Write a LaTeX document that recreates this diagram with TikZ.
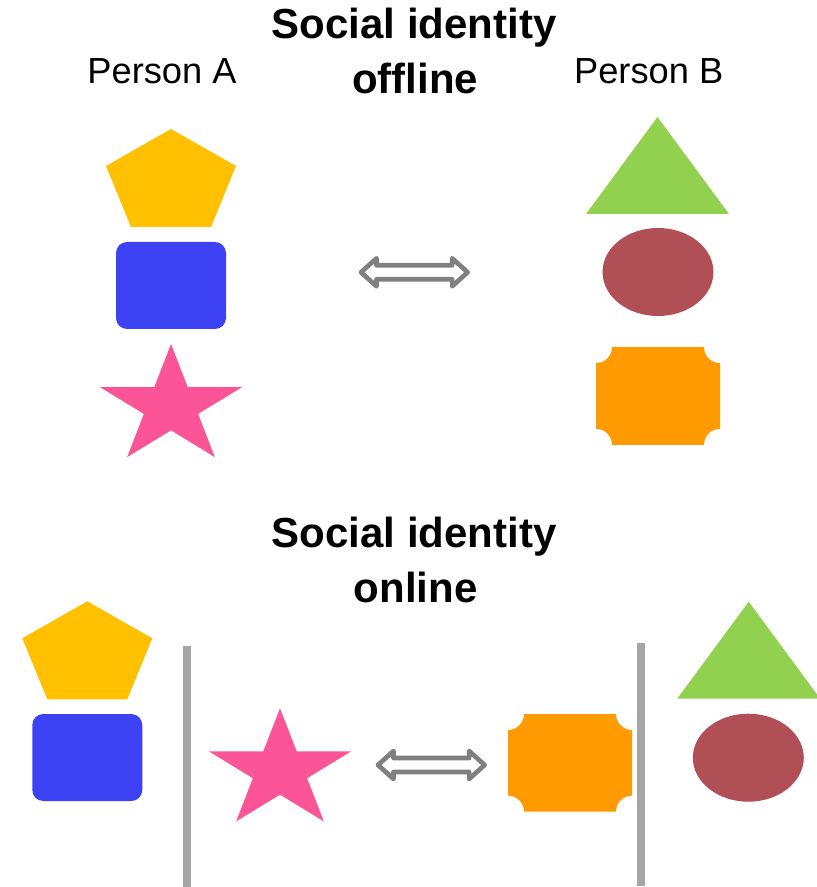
\documentclass[tikz,border=0pt]{standalone}
\usepackage{fontspec}
\setmainfont{Liberation Sans}
\definecolor{penta}{HTML}{FFC000}
\definecolor{boxblue}{HTML}{3D43F5}
\definecolor{starpink}{HTML}{FB5497}
\definecolor{trigreen}{HTML}{92D050}
\definecolor{ovalred}{HTML}{B14F56}
\definecolor{notchorange}{HTML}{FF9A00}
\definecolor{divider}{HTML}{A6A6A6}
\definecolor{arrowgray}{HTML}{808080}

\tikzset{
  heading/.style={font=\fontsize{31.5}{38}\selectfont\bfseries, anchor=base, inner sep=0pt},
  person/.style={font=\fontsize{27.2}{33}\selectfont, anchor=base, inner sep=0pt},
  wall/.style={draw=divider, line width=5.6pt},
  % yellow pentagon, origin at the apex
  pentagonshape/.pic={\fill[penta] (0,0) -- (65,37) -- (40,98) -- (-40,98) -- (-65,37) -- cycle;},
  % blue rounded box, origin at the middle of its top edge
  boxshape/.pic={\fill[boxblue, rounded corners=8.25pt] (-55,0) rectangle (55,87);},
  % pink five-pointed star, origin at its centre
  starshape/.pic={\fill[starpink]
      (90:55.95pt and 46.9pt) -- (54:21.4pt and 17.9pt) --
      (18:55.95pt and 46.9pt) -- (-18:21.4pt and 17.9pt) --
      (-54:55.95pt and 46.9pt) -- (-90:21.4pt and 17.9pt) --
      (-126:55.95pt and 46.9pt) -- (-162:21.4pt and 17.9pt) --
      (-198:55.95pt and 46.9pt) -- (-234:21.4pt and 17.9pt) -- cycle;},
  % green triangle, origin at the apex
  triangleshape/.pic={\fill[trigreen] (0,0) -- (71.5,97) -- (-71.5,97) -- cycle;},
  % red oval, origin at its centre
  ovalshape/.pic={\fill[ovalred] (0,0) ellipse [x radius=41.6pt, y radius=33pt];},
  % orange plaque with concave corners, origin at its centre
  plaqueshape/.pic={\fill[notchorange]
      (46,-48.8) arc[start angle=180, end angle=270, radius=12pt] --
      (62,32.8) arc[start angle=90, end angle=180, radius=12pt] --
      (-46,48.8) arc[start angle=0, end angle=90, radius=12pt] --
      (-62,-32.8) arc[start angle=-90, end angle=0, radius=12pt] -- cycle;},
  % outlined left-right arrow, origin at its centre
  swaparrow/.pic={\draw[arrowgray, line width=3.5pt, line join=round, fill=white]
      (-53.3,0) -- (-37.8,-14) -- (-37.8,-7) -- (37.8,-7) -- (37.8,-14) --
      (53.3,0) -- (37.8,14) -- (37.8,7) -- (-37.8,7) -- (-37.8,14) -- cycle;}
}

\begin{document}
\begin{tikzpicture}[x=0.75pt, y=-0.75pt]
\useasboundingbox (0,0) rectangle (816,887);

% offline
\node[heading] (offlineA) at (414,39) {Social identity};
\node[heading] (offlineB) at (415,94) {offline};
\node[person] (personA) at (162,83.3) {Person A};
\node[person] (personB) at (648.7,83.3) {Person B};

\pic (penA) at (171,129) {pentagonshape};
\pic (boxA) at (171,242) {boxshape};
\pic (starA) at (171,406.5) {starshape};

\pic (triB) at (657.5,117) {triangleshape};
\pic (ovalB) at (658,272) {ovalshape};
\pic (plaqueB) at (658,396) {plaqueshape};

\pic (swapTop) at (414.3,272.3) {swaparrow};

% online
\node[heading] (onlineA) at (414,547) {Social identity};
\node[heading] (onlineB) at (415.5,602) {online};

\pic (penA2) at (87.3,601.3) {pentagonshape};
\pic (boxA2) at (87.3,714) {boxshape};
\coordinate (wallA top) at (187,646);
\coordinate (wallA bottom) at (187,890);
\draw[wall] (wallA top) -- (wallA bottom);
\pic (starA2) at (280,770.8) {starshape};

\pic (swapBottom) at (431.3,765) {swaparrow};

\pic (plaqueB2) at (570,762.8) {plaqueshape};
\coordinate (wallB top) at (641,643);
\coordinate (wallB bottom) at (641,886);
\draw[wall] (wallB top) -- (wallB bottom);
\pic (triB2) at (748.7,601.7) {triangleshape};
\pic (ovalB2) at (748.3,757.7) {ovalshape};
\end{tikzpicture}
\end{document}
